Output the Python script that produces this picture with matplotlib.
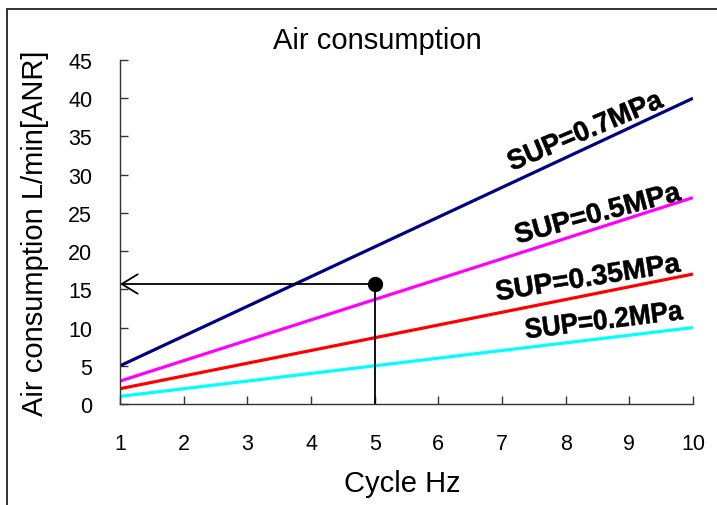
import matplotlib
matplotlib.use("Agg")
import matplotlib.pyplot as plt
from matplotlib.patches import Rectangle, PathPatch
from matplotlib.textpath import TextPath
from matplotlib.font_manager import FontProperties
from matplotlib.transforms import Affine2D, IdentityTransform

# data
freq = [1, 10]
sup_07 = [5, 40]
sup_05 = [3, 27]
sup_035 = [2, 17]
sup_02 = [1, 10]
series = [("SUP=0.7MPa", sup_07, "#000080"),
          ("SUP=0.5MPa", sup_05, "#FF00FF"),
          ("SUP=0.35MPa", sup_035, "#FF0000"),
          ("SUP=0.2MPa", sup_02, "#00FFFF")]
# label centre (x, y), angle, length in px
label_pos = [(8.3, 35.9, 23, 165), (8.5, 25.1, 15, 170),
             (8.35, 16.7, 9, 186), (8.6, 11.1, 7, 158)]
example_hz = 5
example_flow = 15.7

plt.rcParams['font.family'] = ['Liberation Sans', 'DejaVu Sans']

fig = plt.figure(figsize=(7.17, 5.06), dpi=100)
ax = fig.add_axes([0.1674, 0.1996, 0.7991, 0.6798])

# outer border
fig.patches.append(Rectangle((7/717, -0.05), 1.1, 1 - 10/506 + 0.05,
                             transform=fig.transFigure, fill=False,
                             edgecolor="#222222", lw=1.3))

ax.set_xlim(1, 10)
ax.set_ylim(0, 45)

# condensed bold labels
fp = FontProperties(family="Liberation Sans", weight="bold")
for (name, vals, col), (lx, ly, rot, length) in zip(series, label_pos):
    ax.plot(freq, vals, color=col, lw=2.3, solid_capstyle="butt")
    tp = TextPath((0, 0), name, size=28, prop=fp)
    ext = tp.get_extents()
    sx = length / ext.width
    cx, cy = ax.transData.transform((lx, ly))
    tr = (Affine2D().translate(-ext.x0 - ext.width / 2, -ext.y0 - ext.height / 2)
          .scale(sx, 1.0).rotate_deg(rot).translate(cx, cy))
    patch = PathPatch(tr.transform_path(tp), facecolor="black",
                      edgecolor="black", lw=0.4, transform=IdentityTransform())
    fig.patches.append(patch)

# example reading
ax.plot([example_hz, example_hz], [0, example_flow], color="black", lw=1.3)
ax.annotate("", xy=(1, example_flow), xytext=(example_hz, example_flow),
            arrowprops=dict(arrowstyle="->,head_length=1.15,head_width=0.7",
                            color="black", lw=1.3, shrinkA=0, shrinkB=0))
ax.plot([example_hz], [example_flow], "o", color="black", ms=10)

ax.set_xticks(range(1, 11))
ax.set_yticks(range(0, 46, 5))
for s in ["top", "right"]:
    ax.spines[s].set_visible(False)
for s in ["left", "bottom"]:
    ax.spines[s].set_color("#333333")
    ax.spines[s].set_linewidth(1.0)
ax.tick_params(axis="both", direction="in", length=6, width=1.0,
               color="#333333", labelsize=15.5)
ax.tick_params(axis="x", pad=21)
ax.tick_params(axis="y", pad=20)

ax.set_title("Air consumption", fontsize=21, pad=9, x=0.45)
ax.set_xlabel("Cycle Hz", fontsize=21)
ax.xaxis.set_label_coords(0.492, -0.19)
ax.set_ylabel("Air consumption L/min[ANR]", fontsize=21, labelpad=14)

fig.savefig("out.png", dpi=100)
